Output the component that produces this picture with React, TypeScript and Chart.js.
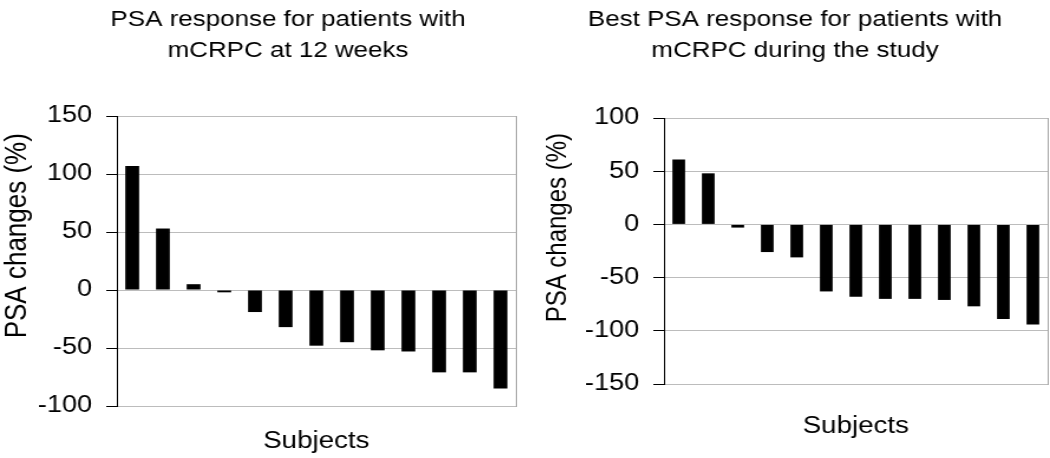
import React, { useEffect, useRef } from 'react';
import { Chart, registerables } from 'chart.js';

Chart.register(...registerables);

// ---- data ----
const subjects = ['1', '2', '3', '4', '5', '6', '7', '8', '9', '10', '11', '12', '13'];
const week12Changes = [107, 53, 5, -2, -19, -32, -48, -45, -52, -53, -71, -71, -85];
const bestChanges = [61, 48, -3, -26, -31, -63, -68, -70, -70, -71, -77, -89, -94];
const week12Title = ['PSA response for patients with', 'mCRPC at 12 weeks'];
const bestTitle = ['Best PSA response for patients with', 'mCRPC during the study'];
const week12Range = [-100, 150];
const bestRange = [-150, 100];
const tickStep = 50;
const yAxisTitle = 'PSA changes (%)';
const xAxisTitle = 'Subjects';

// ---- styles ----
const FONT = "'Liberation Sans', Arial, Helvetica, sans-serif";
const STRETCH = 1.18;
const GRID = '#bcbcbc';
const FRAME = '#a8a8a8';

type PanelProps = {
  values: number[];
  title: string[];
  range: number[];
  canvasWidth: number;
  cssLeft: number;
  yAxisWidth: number;
  rightWidth: number;
  titlePadBottom: number;
  xAxisHeight: number;
  xTitlePadBottom: number;
  yTitleSize: number;
  yTitlePadTop: number;
  yTitleLead: number;
  barPct: number;
};

function Panel(p: PanelProps) {
  const ref = useRef<HTMLCanvasElement | null>(null);
  useEffect(() => {
    if (!ref.current) return;
    const chart = new Chart(ref.current, {
      type: 'bar',
      data: {
        labels: subjects,
        datasets: [
          {
            data: p.values,
            backgroundColor: '#000',
            borderWidth: 0,
            barPercentage: p.barPct,
            categoryPercentage: 1,
            xAxisID: 'x',
            yAxisID: 'y',
          },
        ],
      },
      options: {
        animation: false,
        responsive: false,
        devicePixelRatio: 1,
        layout: { padding: 0 },
        plugins: {
          legend: { display: false },
          tooltip: { enabled: false },
          title: {
            display: true,
            text: p.title,
            color: '#000',
            font: { family: FONT, size: 22, weight: 'normal', lineHeight: 1.4 },
            padding: { top: 5, bottom: p.titlePadBottom },
          },
        },
        scales: {
          x: {
            grid: { display: false },
            ticks: { display: false },
            border: { display: true, color: GRID, width: 1 },
            title: {
              display: true,
              text: xAxisTitle,
              color: '#000',
              font: { family: FONT, size: 23.5, weight: 'normal', lineHeight: 1.2 },
              padding: { top: 0, bottom: p.xTitlePadBottom },
            },
            afterFit: (s: any) => {
              s.height = p.xAxisHeight;
            },
          },
          y: {
            min: p.range[0],
            max: p.range[1],
            ticks: {
              stepSize: tickStep,
              color: '#000',
              padding: 12,
              font: { family: FONT, size: 23, weight: 'normal' },
            },
            grid: { color: GRID, tickColor: '#000', tickLength: 9, lineWidth: 1 },
            border: { display: true, color: '#000', width: 1 },
            title: {
              display: true,
              text: ' '.repeat(p.yTitleLead) + yAxisTitle,
              color: '#000',
              font: { family: FONT, size: p.yTitleSize, weight: 'normal', lineHeight: 1 },
              padding: { top: p.yTitlePadTop, bottom: 0 },
            },
            afterFit: (s: any) => {
              s.width = p.yAxisWidth;
            },
          },
          yR: {
            type: 'linear',
            position: 'right',
            display: true,
            grid: { display: false },
            ticks: { display: false },
            border: { display: true, color: FRAME, width: 1 },
            afterFit: (s: any) => {
              s.width = p.rightWidth;
            },
          },
        },
      } as any,
    });
    return () => chart.destroy();
  }, []);
  return (
    <canvas
      ref={ref}
      width={p.canvasWidth}
      height={458}
      style={{
        position: 'absolute',
        left: p.cssLeft + 'px',
        top: '0px',
        width: p.canvasWidth * STRETCH + 'px',
        height: '458px',
      }}
    />
  );
}

export default function App() {
  return (
    <div
      style={{
        position: 'absolute',
        left: 0,
        top: 0,
        width: '1050px',
        height: '458px',
        overflow: 'hidden',
        background: '#fff',
      }}
    >
      <Panel
        values={week12Changes}
        title={week12Title}
        range={week12Range}
        canvasWidth={488}
        cssLeft={0}
        yAxisWidth={99}
        rightWidth={51}
        titlePadBottom={49.4}
        xAxisHeight={52}
        xTitlePadBottom={2}
        yTitleSize={26}
        yTitlePadTop={1.5}
        yTitleLead={7}
        barPct={0.45}
      />
      <Panel
        values={bestChanges}
        title={bestTitle}
        range={bestRange}
        canvasWidth={432}
        cssLeft={540}
        yAxisWidth={105}
        rightWidth={2}
        titlePadBottom={51.4}
        xAxisHeight={74}
        xTitlePadBottom={17}
        yTitleSize={24}
        yTitlePadTop={3}
        yTitleLead={7}
        barPct={0.43}
      />
    </div>
  );
}
